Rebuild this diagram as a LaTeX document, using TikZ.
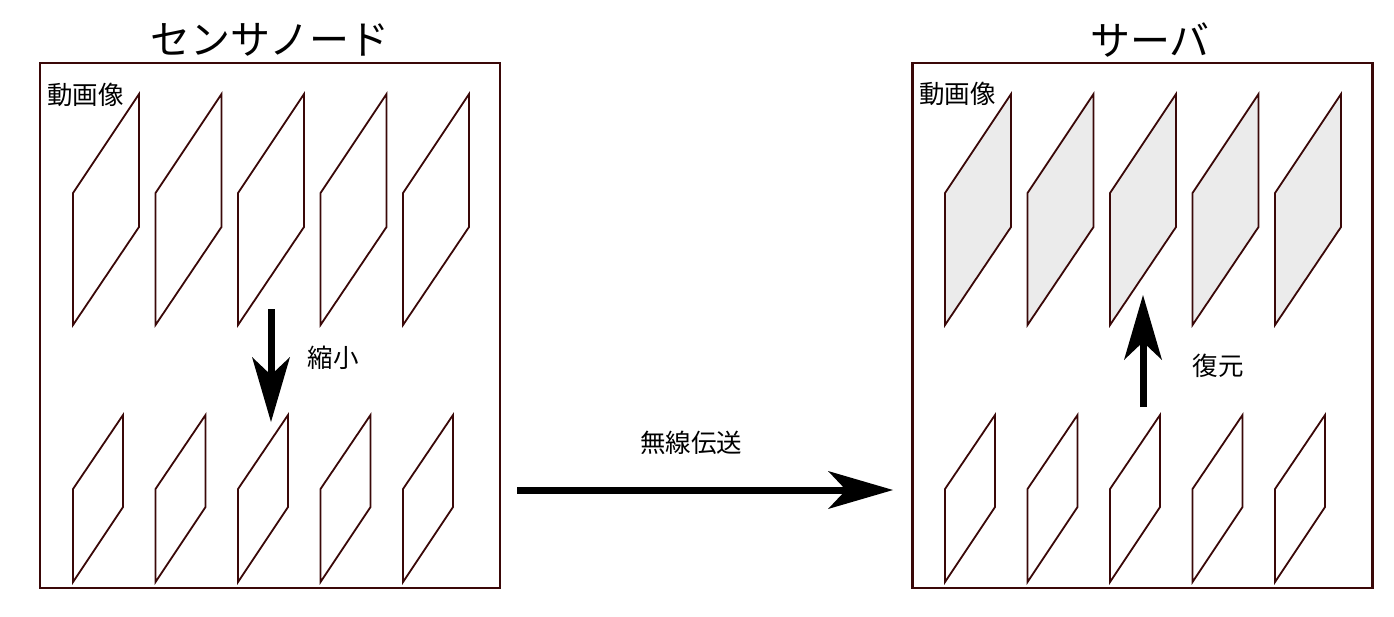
\documentclass[tikz,border=0pt]{standalone}
\usepackage{fontspec}
\setmainfont{Noto Sans CJK JP}
\usetikzlibrary{arrows.meta}
\definecolor{framecol}{HTML}{3A0808}
\definecolor{pfill}{HTML}{EBEBEB}
\tikzset{
  panel/.style={draw=framecol, line width=2.5pt, minimum width=460pt, minimum height=525pt, inner sep=0pt},
  frameshape/.style={draw=framecol, line width=1.8pt, line join=miter},
  title/.style={inner sep=0pt, font=\fontsize{40pt}{48pt}\selectfont},
  lbl/.style={inner sep=0pt, font=\fontsize{25.5pt}{30pt}\selectfont},
  bigarrow/.style={line width=7pt, -{Stealth[length=65pt, width=38pt, inset=18pt, line width=0pt]}}
}
\begin{document}
\begin{tikzpicture}[x=1pt,y=-1pt]
\useasboundingbox (0,0) rectangle (1394,616);
% panels
\node[panel] (sensor) at (270,325.5) {};
\node[panel] (server) at (1142.5,325.5) {};
\node[title] (tsensor) at (270,40) {センサノード};
\node[title] (tserver) at (1150,40) {サーバ};
\node[lbl, anchor=west] (vl) at (47,95) {動画像};
\node[lbl, anchor=west] (vr) at (919,94) {動画像};
% frames
\foreach \i in {0,...,4}{
  \pgfmathsetmacro{\xa}{73+82.5*\i}
  \pgfmathsetmacro{\xb}{945+82.5*\i}
  \draw[frameshape] (\xa,193) -- (\xa+66,94) -- (\xa+66,227) -- (\xa,325) -- cycle;
  \draw[frameshape] (\xa,489) -- (\xa+50,415) -- (\xa+50,507) -- (\xa,582) -- cycle;
  \draw[frameshape, fill=pfill] (\xb,193) -- (\xb+66,94) -- (\xb+66,227) -- (\xb,325) -- cycle;
  \draw[frameshape] (\xb,489) -- (\xb+50,415) -- (\xb+50,507) -- (\xb,582) -- cycle;
}
% arrows
\coordinate (dA) at (271,309);
\coordinate (dB) at (271,422);
\draw[bigarrow] (dA) -- (dB);
\node[lbl] (shrink) at (333,358) {縮小};
\coordinate (uA) at (1143,407);
\coordinate (uB) at (1143,295);
\draw[bigarrow] (uA) -- (uB);
\node[lbl] (restore) at (1218,366) {復元};
\coordinate (hA) at (517,490);
\coordinate (hB) at (893,490);
\draw[bigarrow] (hA) -- (hB);
\node[lbl] (tx) at (691,443) {無線伝送};
\end{tikzpicture}
\end{document}
